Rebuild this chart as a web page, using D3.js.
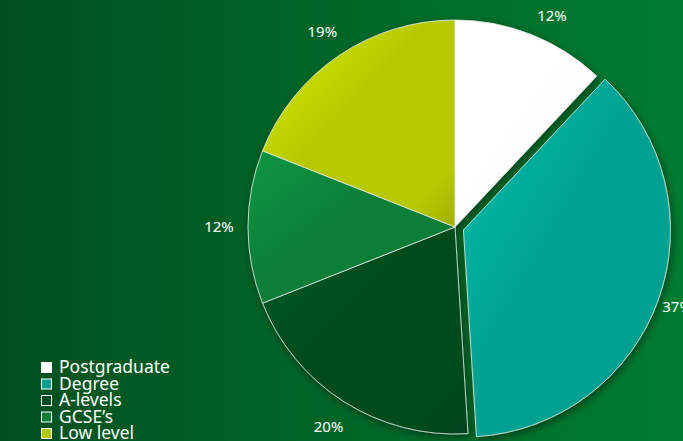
<!DOCTYPE html>
<meta charset="utf-8">
<html>
<head>
<style>
body { margin: 0; }
text { font-family: "Noto Sans", sans-serif; fill: #fff; }
.label { font-size: 15px; text-anchor: middle; }
.legend text { font-size: 17.5px; }
</style>
<script src="https://d3js.org/d3.v7.min.js"></script>
</head>
<body>
<svg width="683" height="441"></svg>
<script>
var categories = ["Postgraduate", "Degree", "A-levels", "GCSE\u2019s", "Low level"];
var shares = [12, 37, 20, 12, 19];
var labels = ["12%", "37%", "20%", "12%", "19%"];
var colors = ["#ffffff", "#00a191", "#004b1e", "#0a7e38", "#b5c800"];
var exploded = ["Degree"];

var svg = d3.select("svg"),
    width = +svg.attr("width"),
    height = +svg.attr("height");

var defs = svg.append("defs");

// background: dark green on the left, brighter on the right
var bg = defs.append("linearGradient").attr("id", "bg");
bg.append("stop").attr("offset", "0%").attr("stop-color", "#00501f");
bg.append("stop").attr("offset", "100%").attr("stop-color", "#007d31");
svg.append("rect").attr("width", width).attr("height", height).attr("fill", "url(#bg)");

var shadow = defs.append("filter").attr("id", "shadow")
    .attr("x", "-20%").attr("y", "-20%").attr("width", "140%").attr("height", "140%");
shadow.append("feDropShadow")
    .attr("dx", 2).attr("dy", 3).attr("stdDeviation", 4)
    .attr("flood-color", "#000").attr("flood-opacity", 0.45);

// soft shading on each slice
colors.forEach(function(c, i) {
  var g = defs.append("linearGradient").attr("id", "slice" + i)
      .attr("x1", "0%").attr("y1", "0%").attr("x2", "100%").attr("y2", "100%");
  var base = d3.color(c);
  var light = i === 0 ? d3.color("#ffffff") : base.brighter(0.5);
  var dark = i === 0 ? d3.color("#cfcfcf") : base.darker(0.35);
  g.append("stop").attr("offset", "0%").attr("stop-color", light);
  g.append("stop").attr("offset", "45%").attr("stop-color", base);
  g.append("stop").attr("offset", i === 0 ? "70%" : "85%").attr("stop-color", i === 0 ? "#fafafa" : base);
  g.append("stop").attr("offset", "100%").attr("stop-color", dark);
});

var cx = 455, cy = 227, radius = 207, labelRadius = 236, explode = 9;

var data = categories.map(function(c, i) { return {name: c, value: shares[i], label: labels[i], i: i}; });

var pie = d3.pie().sort(null).value(function(d) { return d.value; });
var arc = d3.arc().innerRadius(0).outerRadius(radius);
var labelArc = d3.arc().innerRadius(labelRadius).outerRadius(labelRadius);

var arcs = pie(data);

var chart = svg.append("g")
    .attr("transform", "translate(" + cx + "," + cy + ")")
    .attr("filter", "url(#shadow)");

chart.selectAll("path")
  .data(arcs)
  .enter().append("path")
    .attr("d", arc)
    .attr("transform", function(d) {
      if (exploded.indexOf(d.data.name) < 0) return null;
      var a = (d.startAngle + d.endAngle) / 2;
      return "translate(" + (Math.sin(a) * explode) + "," + (-Math.cos(a) * explode) + ")";
    })
    .attr("fill", function(d) { return "url(#slice" + d.data.i + ")"; })
    .attr("stroke", "rgba(235,235,235,0.8)")
    .attr("stroke-width", 1);

// labels sit just outside the rim; keep the top one inside the page
svg.append("g")
    .attr("transform", "translate(" + cx + "," + cy + ")")
  .selectAll("text")
  .data(arcs)
  .enter().append("text")
    .attr("class", "label")
    .attr("dy", "0.35em")
    .attr("transform", function(d) {
      var p = labelArc.centroid(d);
      var y = Math.max(p[1], 16 - cy);
      var x = y > p[1] ? p[0] + (y - p[1]) * 1.2 : p[0];
      return "translate(" + x + "," + y + ")";
    })
    .text(function(d) { return d.data.label; });

// legend
var legend = svg.append("g")
    .attr("class", "legend")
    .attr("transform", "translate(41,373)");

var item = legend.selectAll("g")
  .data(data)
  .enter().append("g")
    .attr("transform", function(d, i) { return "translate(0," + (i * 16.5) + ")"; });

item.append("rect")
    .attr("x", 0.5).attr("y", -10.5)
    .attr("width", 10).attr("height", 10)
    .attr("fill", function(d) { return colors[d.i]; })
    .attr("stroke", "#fff")
    .attr("stroke-width", 1);

item.append("text")
    .attr("x", 18)
    .text(function(d) { return d.name; });
</script>
</body>
</html>
